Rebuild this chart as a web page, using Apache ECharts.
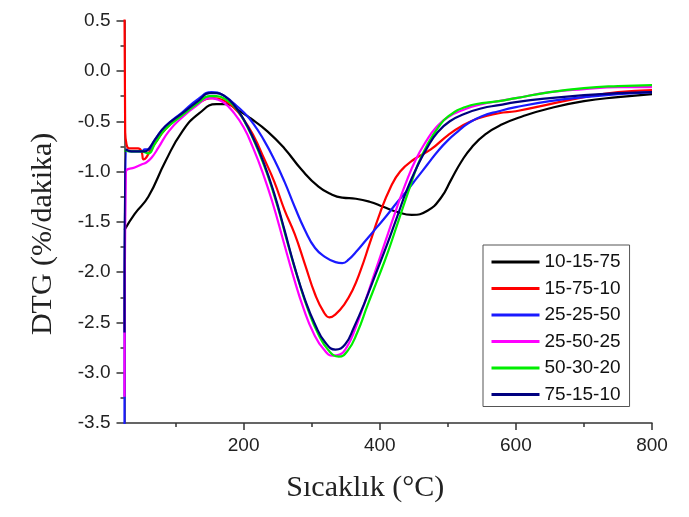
<!DOCTYPE html>
<html>
<head>
<meta charset="utf-8">
<script src="https://cdn.jsdelivr.net/npm/echarts@6/dist/echarts.min.js"></script>
<style>
html,body{margin:0;padding:0;background:#fff;}
#chart{width:689px;height:517px;}
</style>
</head>
<body>
<div id="chart"></div>
<script>
// Series names (legend order)
const seriesNames = ['10-15-75', '15-75-10', '25-25-50', '25-50-25', '50-30-20', '75-15-10'];
const seriesColors = ['#000000', '#ff0000', '#1a1aff', '#ff00ff', '#00ee00', '#000080'];

// [temperature °C, DTG %/min]
const s10_15_75 = [[25,-1.58],[40,-1.42],[60,-1.25],[85,-0.9],[110,-0.6],[135,-0.42],[160,-0.33],[175,-0.33],[190,-0.38],[210,-0.47],[235,-0.6],[260,-0.77],[285,-0.98],[310,-1.15],[330,-1.23],[345,-1.26],[365,-1.27],[385,-1.3],[405,-1.35],[425,-1.4],[447,-1.43],[470,-1.39],[490,-1.26],[505,-1.08],[520,-0.9],[535,-0.76],[555,-0.63],[580,-0.53],[610,-0.45],[650,-0.37],[700,-0.3],[750,-0.26],[800,-0.23]];
const s15_75_10 = [[25,0.6],[26,-0.6],[28,-0.73],[32,-0.77],[45,-0.77],[50,-0.8],[53,-0.88],[57,-0.86],[62,-0.8],[70,-0.72],[85,-0.58],[110,-0.43],[133,-0.32],[155,-0.27],[170,-0.29],[185,-0.36],[200,-0.48],[215,-0.65],[230,-0.87],[245,-1.1],[260,-1.38],[275,-1.62],[290,-1.92],[305,-2.22],[318,-2.4],[326,-2.45],[335,-2.42],[348,-2.32],[360,-2.18],[372,-1.98],[385,-1.72],[400,-1.42],[415,-1.17],[430,-1.0],[450,-0.88],[475,-0.78],[500,-0.64],[520,-0.55],[545,-0.47],[575,-0.42],[600,-0.4],[650,-0.33],[700,-0.26],[750,-0.21],[800,-0.19]];
const s25_25_50 = [[25,-3.6],[27,-0.79],[35,-0.8],[50,-0.8],[55,-0.78],[60,-0.78],[70,-0.68],[85,-0.55],[110,-0.41],[133,-0.28],[153,-0.21],[170,-0.24],[185,-0.32],[200,-0.41],[215,-0.53],[230,-0.69],[245,-0.88],[260,-1.1],[275,-1.35],[290,-1.58],[305,-1.76],[320,-1.85],[335,-1.9],[345,-1.91],[355,-1.87],[365,-1.8],[380,-1.68],[395,-1.56],[410,-1.44],[425,-1.31],[440,-1.19],[455,-1.06],[470,-0.93],[485,-0.8],[500,-0.69],[515,-0.6],[530,-0.52],[550,-0.45],[575,-0.4],[600,-0.36],[650,-0.3],[700,-0.26],[750,-0.23],[800,-0.21]];
const s25_50_25 = [[25,-3.24],[27,-1.0],[40,-0.96],[50,-0.93],[57,-0.91],[65,-0.86],[75,-0.76],[90,-0.6],[110,-0.46],[130,-0.35],[150,-0.27],[160,-0.28],[172,-0.32],[185,-0.41],[200,-0.56],[213,-0.75],[228,-1.01],[243,-1.32],[258,-1.68],[273,-2.04],[288,-2.36],[303,-2.61],[318,-2.77],[331,-2.83],[341,-2.82],[352,-2.74],[363,-2.58],[378,-2.3],[393,-2.0],[408,-1.7],[423,-1.4],[438,-1.12],[453,-0.88],[468,-0.7],[483,-0.56],[500,-0.46],[525,-0.38],[550,-0.33],[575,-0.3],[600,-0.27],[650,-0.21],[700,-0.18],[750,-0.16],[800,-0.16]];
const s50_30_20 = [[25,-0.79],[35,-0.8],[50,-0.8],[60,-0.82],[70,-0.72],[85,-0.58],[110,-0.44],[133,-0.32],[150,-0.25],[160,-0.25],[175,-0.29],[190,-0.38],[205,-0.55],[220,-0.77],[235,-1.03],[250,-1.35],[265,-1.72],[280,-2.07],[295,-2.38],[310,-2.62],[325,-2.78],[340,-2.84],[353,-2.78],[367,-2.6],[382,-2.33],[397,-2.07],[412,-1.8],[427,-1.5],[442,-1.2],[456,-0.93],[471,-0.72],[486,-0.56],[501,-0.45],[525,-0.36],[550,-0.32],[575,-0.3],[600,-0.27],[650,-0.21],[700,-0.17],[750,-0.15],[800,-0.14]];
const s75_15_10 = [[25,-2.6],[27,-0.78],[35,-0.8],[50,-0.8],[55,-0.8],[60,-0.78],[70,-0.68],[85,-0.55],[110,-0.42],[133,-0.3],[150,-0.22],[160,-0.22],[172,-0.25],[185,-0.33],[200,-0.48],[215,-0.68],[230,-0.92],[245,-1.22],[260,-1.58],[275,-1.95],[290,-2.27],[305,-2.52],[320,-2.7],[335,-2.77],[349,-2.72],[362,-2.55],[378,-2.3],[394,-2.02],[410,-1.74],[425,-1.46],[440,-1.18],[455,-0.95],[470,-0.76],[485,-0.61],[503,-0.5],[527,-0.42],[550,-0.37],[575,-0.34],[600,-0.31],[650,-0.27],[700,-0.24],[750,-0.22],[800,-0.21]];

const seriesData = [s10_15_75, s15_75_10, s25_25_50, s25_50_25, s50_30_20, s75_15_10];

// Axis ticks / labels
const xLabelValues = [200, 400, 600, 800];
const xMajorTicks = [200, 400, 600, 800];
const xMinorTicks = [100, 300, 500, 700];
const xMin = 25, xMax = 800;
const yMin = -3.5, yMax = 0.5, yStep = 0.5;

const chart = echarts.init(document.getElementById('chart'), null, {renderer: 'canvas'});

const labelFont = {fontFamily: 'Liberation Sans, Arial, sans-serif', fontSize: 19, color: '#222'};
const axisLineStyle = {color: '#333', width: 1.5};

chart.setOption({
  animation: false,
  backgroundColor: '#ffffff',
  grid: {left: 124.5, right: 37, top: 20.7, bottom: 94, containLabel: false},
  legend: {
    orient: 'vertical',
    left: 483, top: 245,
    padding: [7, 9, 2, 7],
    itemWidth: 48, itemHeight: 20, itemGap: 6.5,
    backgroundColor: '#fff',
    borderColor: '#555', borderWidth: 1,
    itemStyle: {opacity: 0},
    lineStyle: {width: 3},
    textStyle: {fontFamily: 'Liberation Sans, Arial, sans-serif', fontSize: 19, color: '#111', lineHeight: 20},
    data: seriesNames
  },
  xAxis: [{
    type: 'value', min: xMin, max: xMax,
    name: 'Sıcaklık (°C)', nameLocation: 'middle', nameGap: 50,
    nameTextStyle: {fontFamily: 'Liberation Serif, Times New Roman, serif', fontSize: 30, color: '#222', padding: [0, 46, 0, 0]},
    axisLine: {show: true, onZero: false, lineStyle: axisLineStyle},
    axisTick: {show: true, length: 7, customValues: xMajorTicks, lineStyle: {color: '#333', width: 1.5}},
    axisLabel: Object.assign({margin: 13, customValues: xLabelValues}, labelFont),
    splitLine: {show: false}
  }, {
    type: 'value', min: xMin, max: xMax, position: 'bottom',
    axisLine: {show: false, onZero: false},
    axisTick: {show: true, length: 4, customValues: xMinorTicks, lineStyle: {color: '#333', width: 1.5}},
    axisLabel: {show: false},
    splitLine: {show: false}
  }],
  yAxis: {
    type: 'value', min: yMin, max: yMax, interval: yStep,
    name: 'DTG (%/dakika)', nameLocation: 'middle', nameGap: 66,
    nameTextStyle: {fontFamily: 'Liberation Serif, Times New Roman, serif', fontSize: 30, color: '#222', padding: [0, 24, 0, 0]},
    axisLine: {show: true, onZero: false, lineStyle: axisLineStyle},
    axisTick: {show: true, length: 8, lineStyle: {color: '#333', width: 1.5}},
    minorTick: {show: true, splitNumber: 2, length: 4, lineStyle: {color: '#333', width: 1.5}},
    axisLabel: Object.assign({margin: 14, formatter: v => v.toFixed(1)}, labelFont),
    splitLine: {show: false}
  },
  series: seriesNames.map((name, i) => ({
    name: name,
    type: 'line',
    xAxisIndex: 0,
    data: seriesData[i],
    showSymbol: false,
    symbol: 'none',
    smooth: 0.5,
    clip: true,
    color: seriesColors[i],
    lineStyle: {color: seriesColors[i], width: 2.2},
    itemStyle: {color: seriesColors[i]}
  }))
});
</script>
</body>
</html>
